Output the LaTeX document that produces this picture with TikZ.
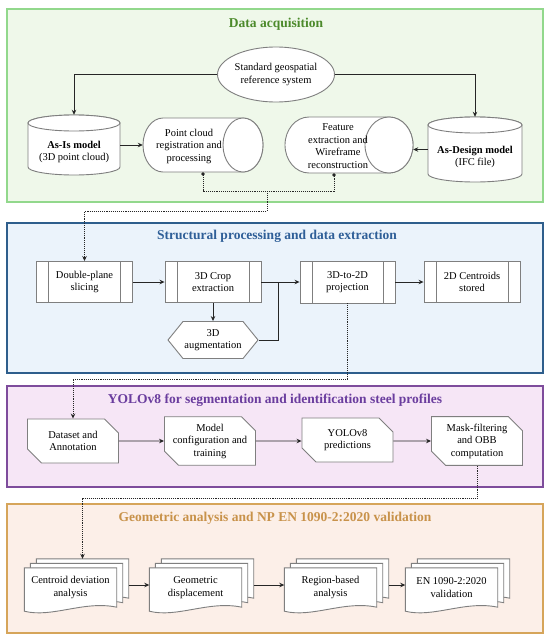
\documentclass[tikz,border=0pt]{standalone}
\usepackage{fontspec}
\setmainfont{Liberation Serif}
\usetikzlibrary{shapes.geometric,shapes.misc,shapes.symbols,arrows.meta,calc}
\definecolor{gB}{HTML}{92D88C}
\definecolor{gF}{HTML}{EFF8EA}
\definecolor{gT}{HTML}{4C8A2B}
\definecolor{bB}{HTML}{2E5E8C}
\definecolor{bF}{HTML}{EBF3FB}
\definecolor{bT}{HTML}{2F5F98}
\definecolor{pB}{HTML}{7E4C9C}
\definecolor{pF}{HTML}{F6E6F6}
\definecolor{pT}{HTML}{6A3D9E}
\definecolor{oB}{HTML}{D6A55A}
\definecolor{oF}{HTML}{FCEFE8}
\definecolor{oT}{HTML}{C8924A}
\definecolor{nB}{HTML}{7F7F7F}
\definecolor{ln}{HTML}{262626}
\tikzset{
  panel/.style={line width=1.3pt, minimum width=536, minimum height=#1, inner sep=0pt},
  ttl/.style={font=\fontsize{13.5}{16}\selectfont\bfseries},
  txt/.style={font=\fontsize{10.5}{12.5}\selectfont, align=center, inner sep=0pt},
  shp/.style={draw=nB, fill=white, line width=0.9pt},
  arr/.style={draw=ln, line width=0.9pt, -{Stealth[length=5pt,width=4.5pt]}},
  dotl/.style={draw=ln, line width=0.9pt, dash pattern=on 1pt off 0.9pt},
  proc/.style={shp, txt, minimum width=96, minimum height=41,
    path picture={\draw[nB,line width=0.9pt]
      ([xshift=12pt]path picture bounding box.north west) -- ([xshift=12pt]path picture bounding box.south west)
      ([xshift=-12pt]path picture bounding box.north east) -- ([xshift=-12pt]path picture bounding box.south east);}},
  card/.style={shp, txt, chamfered rectangle, chamfered rectangle corners={north east,south west},
    chamfered rectangle xsep=7pt, chamfered rectangle ysep=7pt, minimum width=91, minimum height=44},
  hexa/.style={shp, txt, signal, signal to=east and west, signal pointer angle=102, minimum width=90, minimum height=37},
  box/.style={minimum width=#1, inner sep=0pt},
}
% vertical cylinder: cx, top, width, bottom, ry
\newcommand{\vcyl}[5]{%
  \pgfmathsetmacro\rxv{#3/2}%
  \filldraw[shp] (#1-\rxv,#2+#5) -- (#1-\rxv,#4-#5) arc[start angle=180,end angle=0,x radius=\rxv,y radius=#5]
    -- (#1+\rxv,#2+#5) arc[start angle=0,end angle=-180,x radius=\rxv,y radius=#5] -- cycle;
  \draw[shp] (#1,#2+#5) ellipse[x radius=\rxv,y radius=#5];}
% horizontal cylinder: left, right, top, bottom, rx
\newcommand{\hcyl}[5]{%
  \pgfmathsetmacro\ryh{(#4-#3)/2}%
  \filldraw[shp] (#1+#5,#4) arc[start angle=90,end angle=270,x radius=#5,y radius=\ryh]
    -- (#2-#5,#3) arc[start angle=-90,end angle=90,x radius=#5,y radius=\ryh] -- cycle;
  \draw[shp] (#2-#5,#3+\ryh) ellipse[x radius=#5,y radius=\ryh];}
% document shape around a node
\newcommand{\docshape}[1]{%
  \filldraw[shp] (#1.north west) -- (#1.north east) -- ([yshift=4pt]#1.south east)
    .. controls ($(#1.south east)!0.35!(#1.south west)+(0,-11)$) and ($(#1.south east)!0.7!(#1.south west)+(0,7)$)
    .. (#1.south west) -- cycle;}
\newcommand{\mdoc}[4]{% name, cx, cy, text
  \node[minimum width=92, minimum height=43, inner sep=0pt] (#1-3) at (#2+12,#3-9) {};
  \docshape{#1-3}
  \node[minimum width=92, minimum height=43, inner sep=0pt] (#1-2) at (#2+6,#3-4.5) {};
  \docshape{#1-2}
  \node[minimum width=92, minimum height=43, inner sep=0pt] (#1) at (#2,#3) {};
  \docshape{#1}
  \node[txt] (#1-t) at (#2,#3-2) {#4};}
\begin{document}
\begin{tikzpicture}[x=1pt,y=-1pt]
\useasboundingbox (0,0) rectangle (550,640);
\fill[white] (0,0) rectangle (550,640);
% panels
\node[panel=193, draw=gB, fill=gF] (p1) at (275,105.5) {};
\node[panel=150, draw=bB, fill=bF] (p2) at (275,298) {};
\node[panel=101, draw=pB, fill=pF] (p3) at (275,436.5) {};
\node[panel=129, draw=oB, fill=oF] (p4) at (275,568.5) {};
\node[ttl, text=gT] (t1) at (276,24) {Data acquisition};
\node[ttl, text=bT] (t2) at (277,236) {Structural processing and data extraction};
\node[ttl, text=pT] (t3) at (275,400) {YOLOv8 for segmentation and identification steel profiles};
\node[ttl, text=oT] (t4) at (275,518) {Geometric analysis and NP EN 1090-2:2020 validation};

% Panel 1
\node[shp, txt, ellipse, minimum width=117, minimum height=55] (std) at (276,74.5) {Standard geospatial\\reference system};
\vcyl{74}{115}{92}{175}{8}
\node[box=92, minimum height=60] (asis) at (74,145) {};
\node[txt] (asist) at (74,152) {\textbf{As-Is model}\\(3D point cloud)};
\vcyl{475}{117}{94}{182}{8}
\node[box=94, minimum height=65] (ad) at (475,149.5) {};
\node[txt] (adt) at (475,157) {\textbf{As-Design model}\\(IFC file)};
\hcyl{143}{263}{118}{172}{20}
\node[box=120, minimum height=54] (pc) at (203,145) {};
\node[txt] (pct) at (189,146) {Point cloud\\registration and\\processing};
\hcyl{285}{413}{117}{173}{24}
\node[box=128, minimum height=56] (fe) at (349,145) {};
\node[txt] (fet) at (338,146) {Feature\\extraction and\\Wireframe\\reconstruction};
\draw[arr] (std.west) -| (asis.north);
\draw[arr] (std.east) -| (ad.north);
\draw[arr] (asis.east) -- (pc.west);
\draw[arr] (ad.west) -- (fe.east |- ad.west);

% connector 1
\draw[dotl, {Circle[length=3.5pt]}-{Circle[length=3.5pt]}] (pc.south) -- ++(0,19) -| ([xshift=-15pt]fe.south);
\coordinate (j1) at (267,191);

% Panel 2
\node[proc] (sl) at (84.5,282) {Double-plane\\slicing};
\node[proc] (cr) at (213,282) {3D Crop\\extraction};
\node[proc, minimum width=95, minimum height=42] (pj) at (347.5,282) {3D-to-2D\\projection};
\node[proc] (cs) at (472,282) {2D Centroids\\stored};
\node[hexa] (aug) at (213,340) {3D\\augmentation};
\draw[dotl, -{Stealth[length=5pt,width=4.5pt]}] (j1) -- ++(0,20) -| (sl.north);
\draw[arr] (sl) -- (cr);
\draw[arr] (cr) -- (pj);
\draw[arr] (pj) -- (cs);
\draw[arr] (cr.south) -- (aug.north);
\draw[draw=ln, line width=0.9pt] (aug.east) -| ($(cr.east)!0.45!(pj.west)$);

% Panel 3
\node[card] (da) at (73,441) {Dataset and\\Annotation};
\node[card] (mc) at (210,441) {Model\\configuration and\\training};
\node[card] (yp) at (347.5,440) {YOLOv8\\predictions};
\node[card] (mf) at (477,441) {Mask-filtering\\and OBB\\computation};
\draw[dotl, -{Stealth[length=5pt,width=4.5pt]}] (pj.south) -- ++(0,76) -| (da.north);
\draw[arr] (da) -- (mc);
\draw[arr] (mc) -- (yp.west |- mc.east);
\draw[arr] (yp.east |- mc.east) -- (mf);

% Panel 4
\mdoc{cd}{70.5}{589.5}{Centroid deviation\\analysis}
\mdoc{gd}{195.5}{589.5}{Geometric\\displacement}
\mdoc{rb}{330.5}{589.5}{Region-based\\analysis}
\mdoc{en}{451.5}{589.5}{EN 1090-2:2020\\validation}
\draw[dotl, -{Stealth[length=5pt,width=4.5pt]}] (mf.south) -- ++(0,33) -| (cd-3.north);
\draw[arr] (cd-3.east |- cd-2.east) -- (gd.west |- cd-2.east);
\draw[arr] (gd-3.east |- gd-2.east) -- (rb.west |- gd-2.east);
\draw[arr] (rb-3.east |- rb-2.east) -- (en.west |- rb-2.east);
\end{tikzpicture}
\end{document}
